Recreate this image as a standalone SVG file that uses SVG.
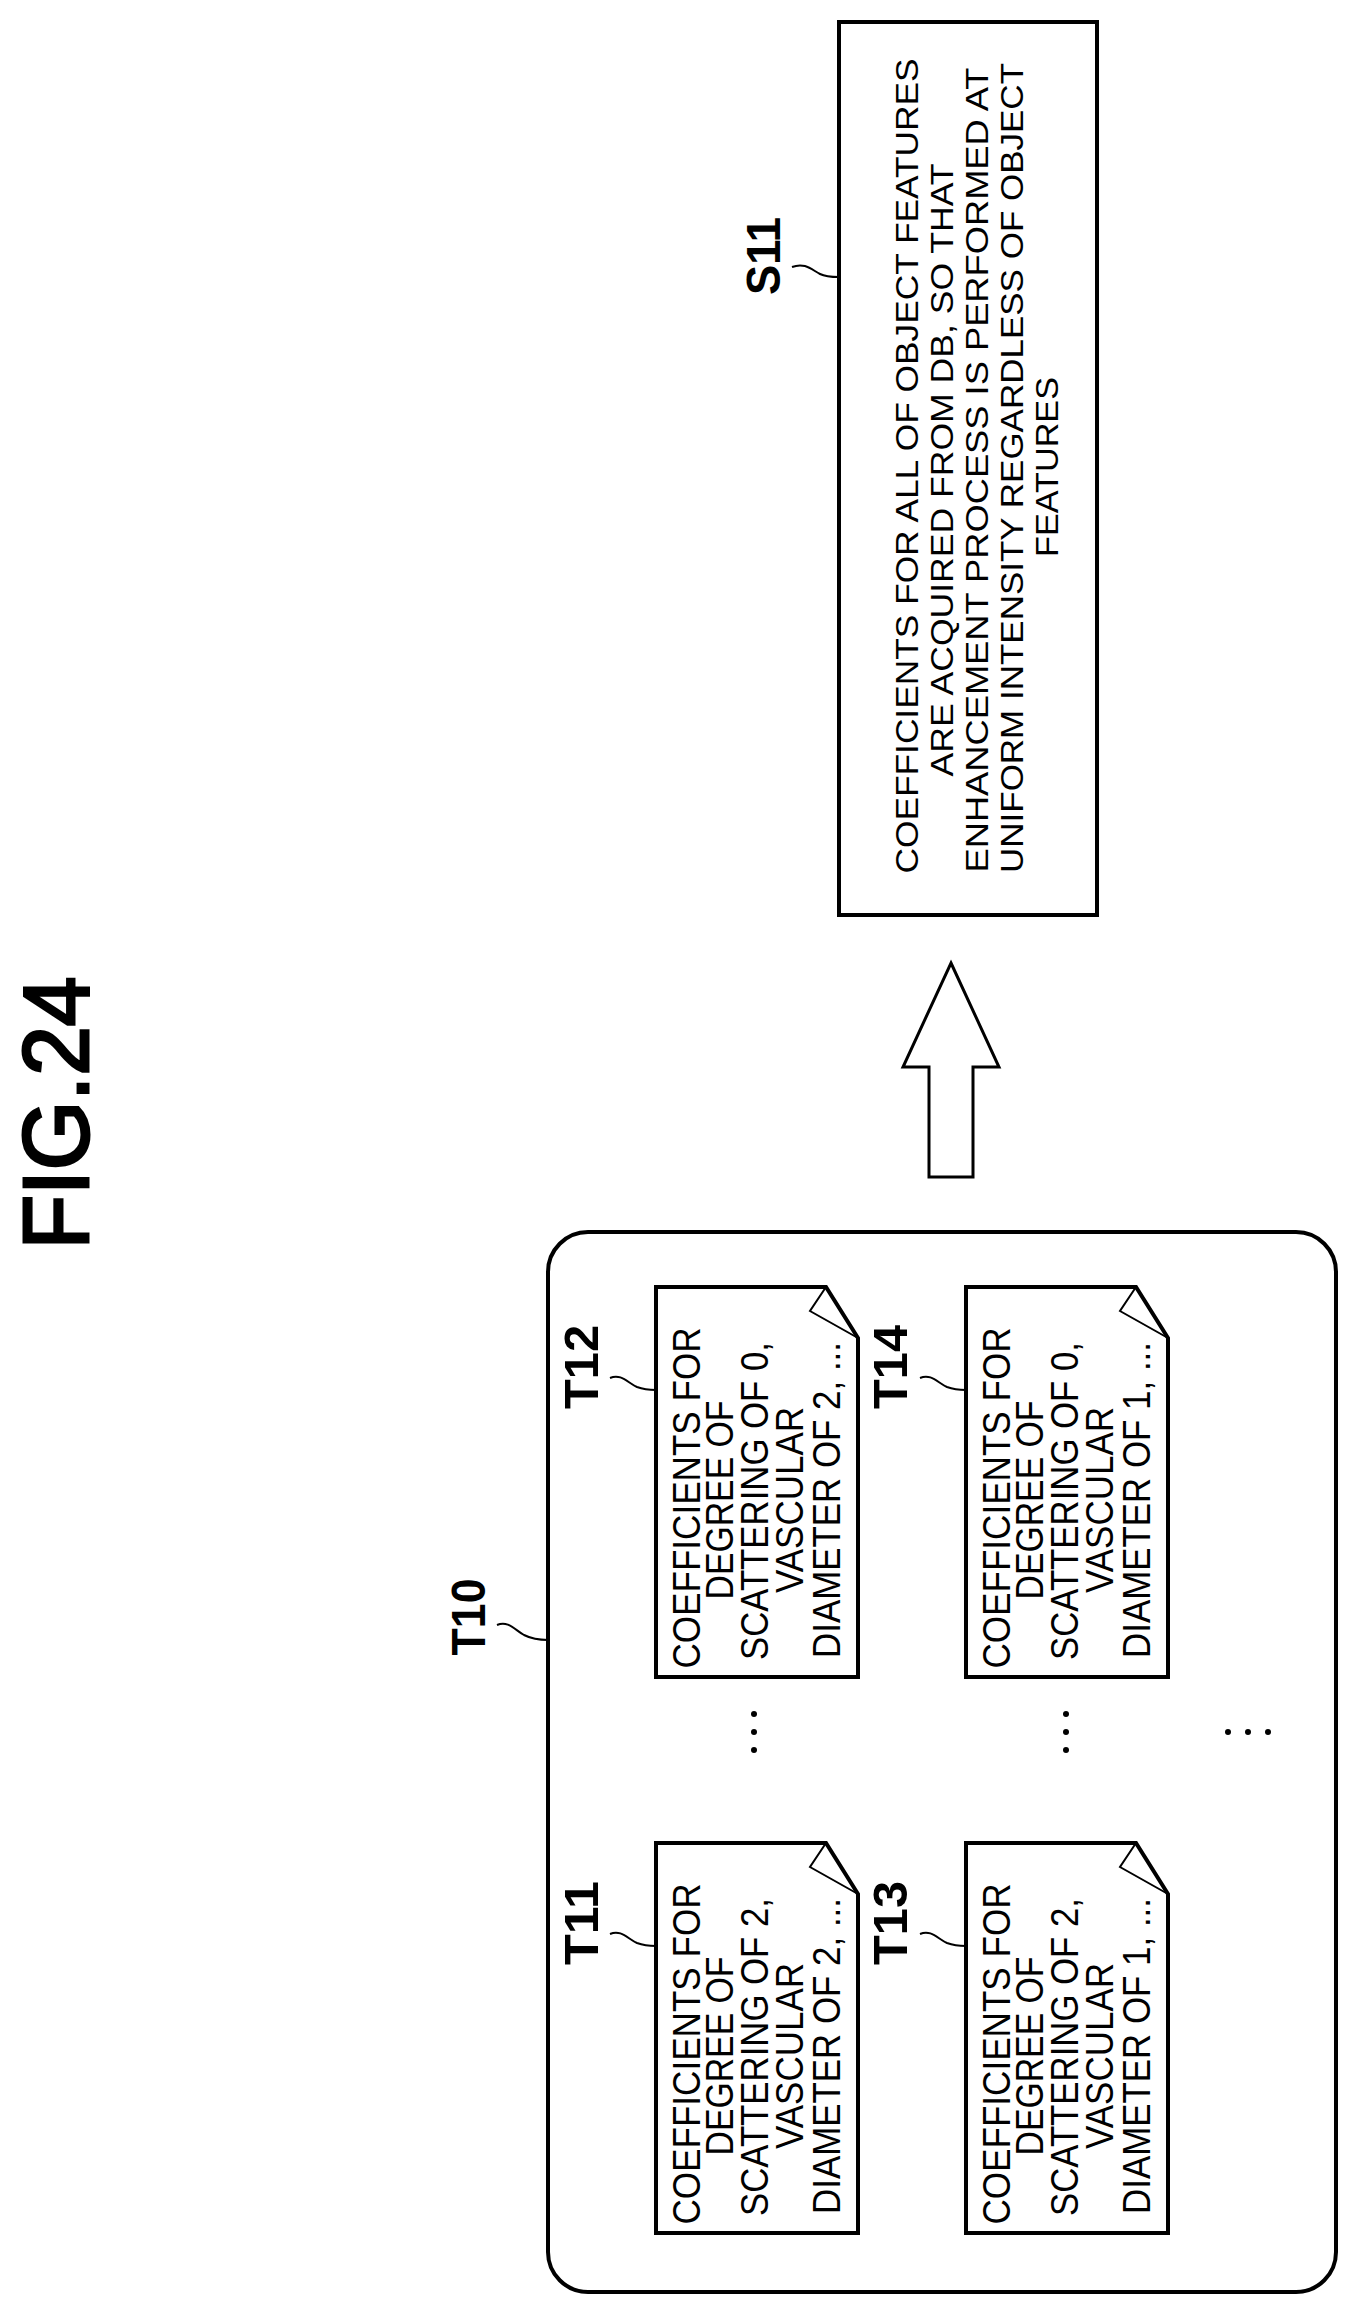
<svg xmlns="http://www.w3.org/2000/svg" width="1352" height="2310" viewBox="0 0 1352 2310">
<style>
.ln{fill:none;stroke:#000;stroke-width:4}
.ld{fill:none;stroke:#000;stroke-width:2}
.tx{font-family:"Liberation Sans",Arial,sans-serif;font-size:38px;fill:#000;text-anchor:middle}
.sx{font-family:"Liberation Sans",Arial,sans-serif;font-size:32px;fill:#000;text-anchor:middle}
.lb{font-family:"Liberation Sans",Arial,sans-serif;font-size:48px;font-weight:bold;fill:#000;text-anchor:middle}
</style>
<rect width="1352" height="2310" fill="#fff"/>
<g id="title">
<text transform="translate(88,1113) rotate(-90)" font-family="Liberation Sans,Arial,sans-serif" font-size="93" stroke="#000" stroke-width="3" text-anchor="middle" textLength="273" lengthAdjust="spacingAndGlyphs">FIG.24</text>
</g>
<g id="S11">
<rect class="ln" x="839" y="22" width="258" height="893"/>
<text class="lb" transform="translate(780,256) rotate(-90)" textLength="78" lengthAdjust="spacingAndGlyphs">S11</text>
<path class="ld" d="M792,267 C805,262 812,270 820,274 C826,277 832,277 839,277"/>
<text class="sx" transform="translate(918,466) rotate(-90)" textLength="815" lengthAdjust="spacingAndGlyphs">COEFFICIENTS FOR ALL OF OBJECT FEATURES</text>
<text class="sx" transform="translate(953,470) rotate(-90)" textLength="613" lengthAdjust="spacingAndGlyphs">ARE ACQUIRED FROM DB, SO THAT</text>
<text class="sx" transform="translate(988,470) rotate(-90)" textLength="805" lengthAdjust="spacingAndGlyphs">ENHANCEMENT PROCESS IS PERFORMED AT</text>
<text class="sx" transform="translate(1023,468) rotate(-90)" textLength="810" lengthAdjust="spacingAndGlyphs">UNIFORM INTENSITY REGARDLESS OF OBJECT</text>
<text class="sx" transform="translate(1058,467) rotate(-90)" textLength="180" lengthAdjust="spacingAndGlyphs">FEATURES</text>
</g>
<g id="connectors">
<polygon points="951,963 999,1067 973,1067 973,1177 929,1177 929,1067 903,1067" fill="#fff" stroke="#000" stroke-width="3"/>
</g>
<g id="T10">
<rect class="ln" x="548" y="1232" width="788" height="1060" rx="40"/>
<text class="lb" transform="translate(485,1617) rotate(-90)" textLength="77" lengthAdjust="spacingAndGlyphs">T10</text>
<path class="ld" d="M497,1625 C508,1620 515,1630 524,1635 C532,1639 540,1640 548,1640"/>
<g fill="#000">
<circle cx="754" cy="1714" r="3"/><circle cx="754" cy="1732" r="3"/><circle cx="754" cy="1750" r="3"/>
<circle cx="1066" cy="1714" r="3"/><circle cx="1066" cy="1732" r="3"/><circle cx="1066" cy="1750" r="3"/>
<circle cx="1228" cy="1732" r="3"/><circle cx="1248" cy="1732" r="3"/><circle cx="1268" cy="1732" r="3"/>
</g>
</g>
<g id="T12" transform="translate(656,1287)">
<path class="ln" d="M0,0 H170 L202,51 V390 H0 Z"/>
<path class="ld" d="M170,0 L154,24 L202,51"/>
<text class="lb" transform="translate(-58,80) rotate(-90)" textLength="84" lengthAdjust="spacingAndGlyphs">T12</text>
<path class="ld" d="M-46,91 C-35,86 -28,96 -19,100 C-11,103 -6,103 0,103"/>
<text class="tx" transform="translate(44,211) rotate(-90)" textLength="341" lengthAdjust="spacingAndGlyphs">COEFFICIENTS FOR</text>
<text class="tx" transform="translate(77,213) rotate(-90)" textLength="199" lengthAdjust="spacingAndGlyphs">DEGREE OF</text>
<text class="tx" transform="translate(112,214) rotate(-90)" textLength="318" lengthAdjust="spacingAndGlyphs">SCATTERING OF 0,</text>
<text class="tx" transform="translate(147,213) rotate(-90)" textLength="186" lengthAdjust="spacingAndGlyphs">VASCULAR</text>
<text class="tx" transform="translate(184,213) rotate(-90)" textLength="316" lengthAdjust="spacingAndGlyphs">DIAMETER OF 2, ...</text>
</g>
<g id="T14" transform="translate(966,1287)">
<path class="ln" d="M0,0 H170 L202,51 V390 H0 Z"/>
<path class="ld" d="M170,0 L154,24 L202,51"/>
<text class="lb" transform="translate(-59,80) rotate(-90)" textLength="84" lengthAdjust="spacingAndGlyphs">T14</text>
<path class="ld" d="M-46,91 C-35,86 -28,96 -19,100 C-11,103 -6,103 0,103"/>
<text class="tx" transform="translate(44,211) rotate(-90)" textLength="341" lengthAdjust="spacingAndGlyphs">COEFFICIENTS FOR</text>
<text class="tx" transform="translate(77,213) rotate(-90)" textLength="199" lengthAdjust="spacingAndGlyphs">DEGREE OF</text>
<text class="tx" transform="translate(112,214) rotate(-90)" textLength="318" lengthAdjust="spacingAndGlyphs">SCATTERING OF 0,</text>
<text class="tx" transform="translate(147,213) rotate(-90)" textLength="186" lengthAdjust="spacingAndGlyphs">VASCULAR</text>
<text class="tx" transform="translate(184,213) rotate(-90)" textLength="316" lengthAdjust="spacingAndGlyphs">DIAMETER OF 1, ...</text>
</g>
<g id="T11" transform="translate(656,1843)">
<path class="ln" d="M0,0 H170 L202,51 V390 H0 Z"/>
<path class="ld" d="M170,0 L154,24 L202,51"/>
<text class="lb" transform="translate(-58,80) rotate(-90)" textLength="84" lengthAdjust="spacingAndGlyphs">T11</text>
<path class="ld" d="M-46,91 C-35,86 -28,96 -19,100 C-11,103 -6,103 0,103"/>
<text class="tx" transform="translate(44,211) rotate(-90)" textLength="341" lengthAdjust="spacingAndGlyphs">COEFFICIENTS FOR</text>
<text class="tx" transform="translate(77,213) rotate(-90)" textLength="199" lengthAdjust="spacingAndGlyphs">DEGREE OF</text>
<text class="tx" transform="translate(112,214) rotate(-90)" textLength="318" lengthAdjust="spacingAndGlyphs">SCATTERING OF 2,</text>
<text class="tx" transform="translate(147,213) rotate(-90)" textLength="186" lengthAdjust="spacingAndGlyphs">VASCULAR</text>
<text class="tx" transform="translate(184,213) rotate(-90)" textLength="316" lengthAdjust="spacingAndGlyphs">DIAMETER OF 2, ...</text>
</g>
<g id="T13" transform="translate(966,1843)">
<path class="ln" d="M0,0 H170 L202,51 V390 H0 Z"/>
<path class="ld" d="M170,0 L154,24 L202,51"/>
<text class="lb" transform="translate(-59,80) rotate(-90)" textLength="84" lengthAdjust="spacingAndGlyphs">T13</text>
<path class="ld" d="M-46,91 C-35,86 -28,96 -19,100 C-11,103 -6,103 0,103"/>
<text class="tx" transform="translate(44,211) rotate(-90)" textLength="341" lengthAdjust="spacingAndGlyphs">COEFFICIENTS FOR</text>
<text class="tx" transform="translate(77,213) rotate(-90)" textLength="199" lengthAdjust="spacingAndGlyphs">DEGREE OF</text>
<text class="tx" transform="translate(112,214) rotate(-90)" textLength="318" lengthAdjust="spacingAndGlyphs">SCATTERING OF 2,</text>
<text class="tx" transform="translate(147,213) rotate(-90)" textLength="186" lengthAdjust="spacingAndGlyphs">VASCULAR</text>
<text class="tx" transform="translate(184,213) rotate(-90)" textLength="316" lengthAdjust="spacingAndGlyphs">DIAMETER OF 1, ...</text>
</g>
</svg>
